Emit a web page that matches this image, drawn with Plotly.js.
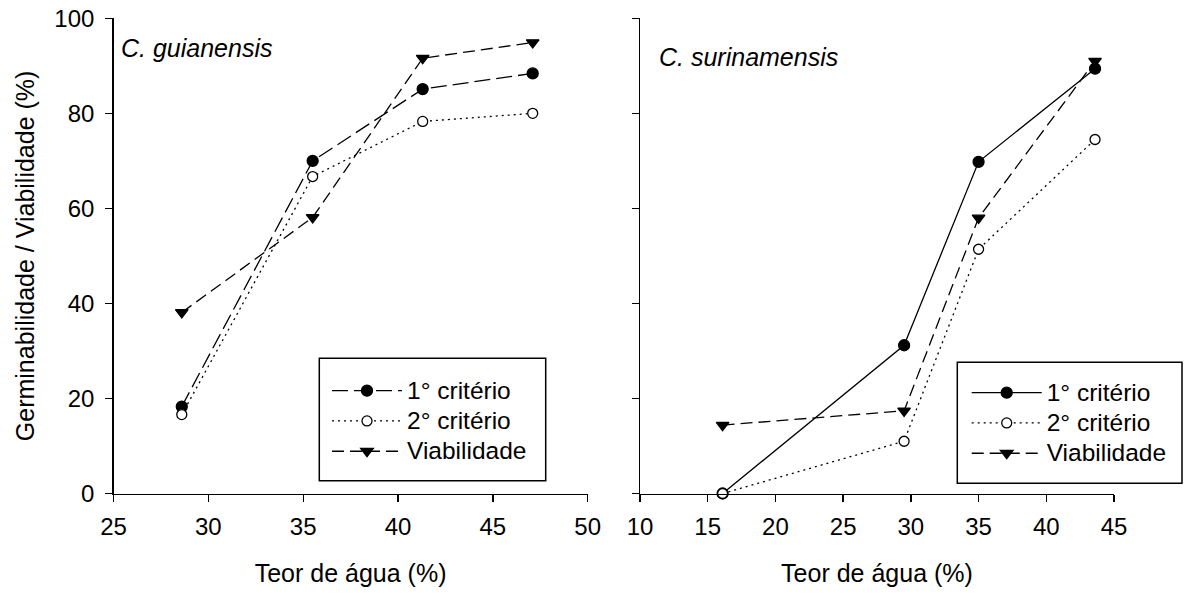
<!DOCTYPE html>
<html>
<head>
<meta charset="utf-8">
<script src="https://cdn.plot.ly/plotly-3.0.1.min.js"></script>
<style>
  html, body { margin: 0; padding: 0; background: #ffffff; }
  #chart { width: 1184px; height: 594px; }
</style>
</head>
<body>
<div id="chart"></div>
<script>
// ---- Data ----
const seriesNames = ["1° critério", "2° critério", "Viabilidade"];

// C. guianensis
const guiWater = [28.6, 35.5, 41.3, 47.1];
const guiCrit1 = [18.3, 70.0, 85.1, 88.4];
const guiCrit2 = [16.6, 66.7, 78.3, 80.0];
const guiViab  = [38.1, 58.1, 91.6, 94.9];

// C. surinamensis
const surWater = [16.1, 29.5, 35.0, 43.6];
const surCrit1 = [0.0, 31.2, 69.8, 89.4];
const surCrit2 = [0.0, 11.0, 51.4, 74.5];
const surViab  = [14.4, 17.4, 58.0, 91.0];

const leftTicks  = [25, 30, 35, 40, 45, 50];
const rightTicks = [10, 15, 20, 25, 30, 35, 40, 45];
const yTicks     = [0, 20, 40, 60, 80, 100];

const FONT = "Liberation Sans, Arial, Helvetica, sans-serif";
const W = 1184, H = 594;
const px = v => v / W;
const py = v => 1 - v / H;

// legend label rendered at a larger size than the row-spacing font
const big = s => '<span style="font-size:24.5px">' + s + '</span>';

function mk(x, y, name, xa, ya, legend, lineDash, symbol, filled, size) {
  return {
    x: x, y: y, name: big(name), type: "scatter", mode: "lines+markers",
    xaxis: xa, yaxis: ya, legend: legend,
    line: { color: "#000000", width: 1.3, dash: lineDash },
    marker: {
      symbol: symbol, size: size,
      color: filled ? "#000000" : "#ffffff",
      line: { color: "#000000", width: 1.3 }
    },
    cliponaxis: false
  };
}

const data = [
  mk(guiWater, guiCrit1, seriesNames[0], "x", "y", "legend", "16px,6px", "circle", true, 11),
  mk(guiWater, guiCrit2, seriesNames[1], "x", "y", "legend", "2px,4px", "circle", false, 10),
  mk(guiWater, guiViab,  seriesNames[2], "x", "y", "legend", "12px,6px", "triangle-down", true, 11),
  mk(surWater, surCrit1, seriesNames[0], "x2", "y2", "legend2", "solid", "circle", true, 11),
  mk(surWater, surCrit2, seriesNames[1], "x2", "y2", "legend2", "2px,4px", "circle", false, 10),
  mk(surWater, surViab,  seriesNames[2], "x2", "y2", "legend2", "12px,6px", "triangle-down", true, 11)
];

const axisCommon = {
  showline: true, linecolor: "#000000", linewidth: 1.3,
  ticks: "outside", ticklen: 7, tickwidth: 1.3, tickcolor: "#000000",
  showgrid: false, zeroline: false, mirror: false,
  tickfont: { family: FONT, size: 24, color: "#000000" }
};

const titleFont = { family: FONT, size: 25, color: "#000000" };
const legendFont = { family: FONT, size: 21, color: "#000000" };

const layout = {
  width: W, height: H,
  paper_bgcolor: "#ffffff", plot_bgcolor: "#ffffff",
  margin: { l: 0, r: 0, t: 0, b: 0 },
  showlegend: true,
  font: { family: FONT, size: 24, color: "#000000" },
  xaxis: Object.assign({}, axisCommon, {
    domain: [px(113.5), px(587.7)],
    range: [25, 50], tickvals: leftTicks, anchor: "y", ticklabelstandoff: 4,
    title: { text: "Teor de água (%)", font: titleFont, standoff: 26 }
  }),
  yaxis: Object.assign({}, axisCommon, {
    domain: [py(493.5), py(18.3)],
    range: [0, 100], tickvals: yTicks, anchor: "x", ticklabelstandoff: 6,
    title: { text: "Germinabilidade / Viabilidade (%)", font: titleFont, standoff: 12 }
  }),
  xaxis2: Object.assign({}, axisCommon, {
    domain: [px(640), px(1114)],
    range: [10, 45], tickvals: rightTicks, anchor: "y2", ticklabelstandoff: 4,
    title: { text: "Teor de água (%)", font: titleFont, standoff: 26 }
  }),
  yaxis2: Object.assign({}, axisCommon, {
    domain: [py(493.5), py(18.3)],
    range: [0, 100], tickvals: yTicks, anchor: "x2", showticklabels: false
  }),
  legend: {
    x: px(327), y: py(370.5), xanchor: "left", yanchor: "top",
    bgcolor: "rgba(0,0,0,0)", borderwidth: 0,
    font: legendFont, itemwidth: 70, tracegroupgap: 0
  },
  legend2: {
    x: px(966.7), y: py(372.5), xanchor: "left", yanchor: "top",
    bgcolor: "rgba(0,0,0,0)", borderwidth: 0,
    font: legendFont, itemwidth: 70, tracegroupgap: 0
  },
  shapes: [
    { type: "rect", xref: "paper", yref: "paper", layer: "below",
      x0: px(319.3), x1: px(545.7), y0: py(480.7), y1: py(358.3),
      line: { color: "#000000", width: 1.5 }, fillcolor: "#ffffff" },
    { type: "rect", xref: "paper", yref: "paper", layer: "below",
      x0: px(957.3), x1: px(1182), y0: py(483.3), y1: py(362.3),
      line: { color: "#000000", width: 1.5 }, fillcolor: "#ffffff" }
  ],
  annotations: [
    { text: "<i>C. guianensis</i>", xref: "paper", yref: "paper",
      x: px(119), y: py(48), xanchor: "left", yanchor: "middle",
      showarrow: false, font: { family: FONT, size: 25, color: "#000000" } },
    { text: "<i>C. surinamensis</i>", xref: "paper", yref: "paper",
      x: px(657), y: py(57), xanchor: "left", yanchor: "middle",
      showarrow: false, font: { family: FONT, size: 25, color: "#000000" } }
  ]
};

Plotly.newPlot("chart", data, layout, { displayModeBar: false, staticPlot: true });
</script>
</body>
</html>
